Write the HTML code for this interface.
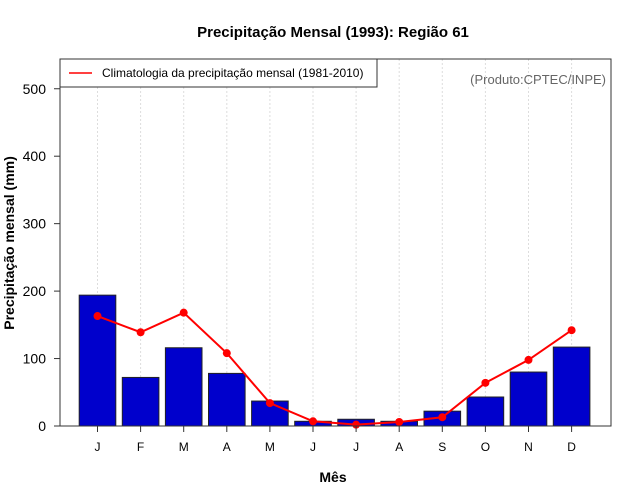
<!DOCTYPE html>
<html><head><meta charset="utf-8"><style>
body{margin:0;background:#fff}
svg{display:block;font-family:"Liberation Sans",sans-serif}
</style></head><body>
<svg id="c" width="640" height="500">
<text x="333" y="37" text-anchor="middle" font-size="15" font-weight="bold">Precipitação Mensal (1993): Região 61</text>
<text x="333" y="482" text-anchor="middle" font-size="14" font-weight="bold">Mês</text>
<text transform="translate(14,243) rotate(-90)" text-anchor="middle" font-size="14" font-weight="bold">Precipitação mensal (mm)</text>
<g id="grid"></g><g id="bars"></g><g id="line"></g><g id="axes"></g>
<rect x="60" y="59" width="551" height="367" fill="none" stroke="#333" stroke-width="1"/>
<g>
<rect x="60" y="59" width="317" height="28" fill="#fff" stroke="#333"/>
<line x1="69" y1="73" x2="92" y2="73" stroke="red" stroke-width="1.5"/>
<text x="102" y="77" font-size="12">Climatologia da precipitação mensal (1981-2010)</text>
</g>
<text x="606" y="84" text-anchor="end" font-size="13" fill="#666">(Produto:CPTEC/INPE)</text>
</svg>
<script>
const months=["J","F","M","A","M","J","J","A","S","O","N","D"];
const obs=[194,72,116,78,37,7,10,7,22,43,80,117];
const clim=[163,139,168,108,34,7,2,6,13,64,98,142];
const yTicks=[0,100,200,300,400,500];
const NS="http://www.w3.org/2000/svg";
const x=i=>97.5+i*43.1;
const y=v=>426-v*0.6745;
function mk(t,a,p){const e=document.createElementNS(NS,t);for(const k in a)e.setAttribute(k,a[k]);p.appendChild(e);return e;}
const g=document.getElementById('grid'),b=document.getElementById('bars'),l=document.getElementById('line'),ax=document.getElementById('axes');
months.forEach((m,i)=>{
 const gl=mk('line',{x1:x(i),x2:x(i),y1:59,y2:426,stroke:'#ddd','stroke-dasharray':'2,2'},g);
 
 
 const r=mk('rect',{x:x(i)-18.3,y:y(obs[i]),width:36.6,height:426-y(obs[i]),fill:'#0000cc',stroke:'#222','stroke-width':1},b);
 
 
 const t=mk('line',{x1:x(i),x2:x(i),y1:426,y2:432,stroke:'#333'},ax);
 
 
 const tl=mk('text',{x:x(i),y:451,'text-anchor':'middle','font-size':12},ax);
 tl.textContent=m;
 
 
});
const pl=mk('polyline',{points:clim.map((v,i)=>x(i)+','+y(v)).join(' '),fill:'none',stroke:'red','stroke-width':2},l);


clim.forEach((v,i)=>{
 const c=mk('circle',{cx:x(i),cy:y(v),r:4,fill:'red'},l);
 
 
});
yTicks.forEach(v=>{
 const t=mk('line',{x1:54,x2:60,y1:y(v),y2:y(v),stroke:'#333'},ax);
 
 
 const tl=mk('text',{x:46,y:y(v)+5,'text-anchor':'end','font-size':14},ax);
 tl.textContent=v;
 
 
});
</script>
</body></html>
